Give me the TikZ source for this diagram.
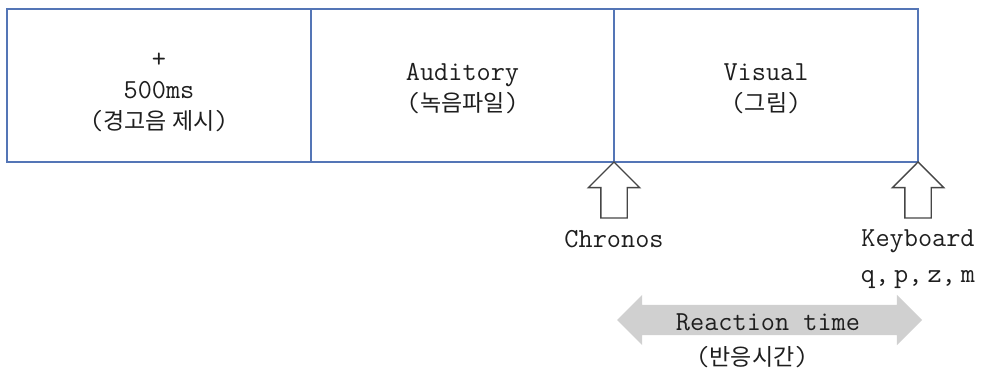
\documentclass[tikz,border=0pt]{standalone}
\usepackage{fontspec}
\newfontfamily\hangulfont{Noto Sans CJK KR}
\usetikzlibrary{shapes.arrows}
\definecolor{boxblue}{RGB}{84,117,182}
\definecolor{ink}{RGB}{30,30,30}
\definecolor{rtgray}{RGB}{208,208,208}
\definecolor{outlinegray}{RGB}{70,70,70}
% Korean words inside the monospaced Latin text
\newcommand\hg[1]{{\hangulfont\fontsize{23}{31}\selectfont #1}}
\newcommand\gap{\hspace{5pt}}

\begin{document}
\begin{tikzpicture}[x=1pt,y=-1pt,
  every node/.style={inner sep=0pt,outer sep=0pt},
  txt/.style={text=ink,align=center,font=\ttfamily\fontsize{27.5}{31}\selectfont},
  stagebox/.style={draw=boxblue,line width=1.3pt,minimum height=153pt},
  uparrow/.style={single arrow,draw=outlinegray,line width=1.4pt,fill=white,
    shape border rotate=90,inner sep=12.5pt,minimum width=0pt,minimum height=56pt,
    single arrow head extend=12.5pt,single arrow head indent=0pt},
  spanarrow/.style={double arrow,fill=rtgray,inner sep=15pt,minimum width=0pt,
    minimum height=305pt,double arrow head extend=10pt}]
\useasboundingbox (0,0) rectangle (985,371);

% the three stages of a trial
\node[stagebox,minimum width=304pt] (cue)   at (159,85.5) {};
\node[stagebox,minimum width=303pt] (sound) at (462.5,85.5) {};
\node[stagebox,minimum width=304pt] (image) at (766,85.5) {};

\node[txt] (cuetext)   at (159,92)   {+\\500ms\\(\hg{경고음 제시})};
\node[txt] (soundtext) at (462.5,89) {Auditory\\(\hg{녹음파일})};
\node[txt] (imagetext) at (766,89)   {Visual\\(\hg{그림})};

% onset and response markers
\node[uparrow,anchor=tip] (onset) at (image.south west) {};
\node[uparrow,anchor=tip] (press) at (image.south east) {};
\node[txt,anchor=north] (chronos) at ([yshift=-12pt]onset.tail) {Chronos};
\node[txt,anchor=north] (keys) at ([yshift=-12pt]press.tail) {Keyboard\\[5pt]q,\gap p,\gap z,\gap m};

% reaction time span
\node[spanarrow] (rt) at (769.5,320) {};
\node[txt] (rtlabel) at (768,322.5) {Reaction time};
\node[txt] (rtko) at (752,357) {(\hg{반응시간})};
\end{tikzpicture}
\end{document}
